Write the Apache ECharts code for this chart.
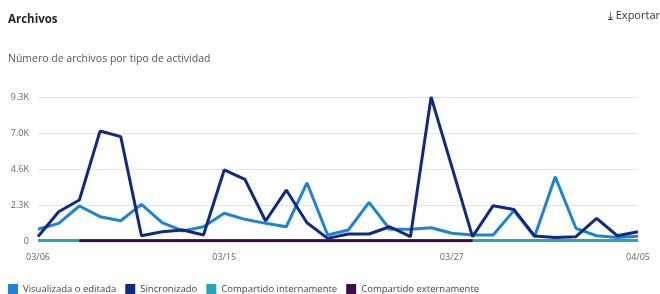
<!DOCTYPE html>
<html>
<head>
<meta charset="utf-8">
<script src="https://cdn.jsdelivr.net/npm/echarts@6/dist/echarts.min.js"></script>
<style>
  html, body { margin: 0; padding: 0; background: #fff; }
  #chart { width: 660px; height: 294px; }
</style>
</head>
<body>
<div id="chart"></div>
<script>
// dates shown on the axis (one day missing in the report between 03/15 and 03/27)
const dates = [
  "03/06", "03/07", "03/08", "03/09", "03/10", "03/11", "03/12", "03/13", "03/14", "03/15",
  "03/16", "03/17", "03/18", "03/19", "03/20", "03/22", "03/23", "03/24", "03/25", "03/26",
  "03/27", "03/28", "03/29", "03/30", "03/31", "04/01", "04/02", "04/03", "04/04", "04/05",
];
const shownDates = ["03/06", "03/15", "03/27", "04/05"];

const visualizada = [
  760, 1140, 2260, 1570, 1310, 2370, 1180, 650, 920, 1790,
  1400, 1140, 920, 3760, 390, 710, 2500, 760, 760, 860,
  500, 390, 390, 1960, 280, 4150, 820, 340, 220, 300,
];
const sincronizado = [
  280, 1890, 2650, 7100, 6740, 340, 600, 710, 390, 4590,
  3980, 1290, 3290, 1180, 170, 450, 450, 920, 280, 9300,
  4800, 280, 2280, 2040, 320, 220, 280, 1460, 340, 600,
];
const internamente = [
  40, 40, 40, 30, 30, 30, 30, 30, 30, 30,
  30, 30, 30, 30, 30, 30, 30, 30, 30, 30,
  30, 40, 40, 40, 40, 40, 40, 40, 40, 40,
];
const externamente = [
  null, null, 20, 20, 20, 20, 20, 20, 20, 20,
  20, 20, 20, 20, 20, 20, 20, 20, 20, 20,
  20, 20, null, null, null, null, null, null, null, null,
];

const yTicks = ["0", "2.3K", "4.6K", "7.0K", "9.3K"];
const yStep = 2325;

const font = "'Open Sans', 'Noto Sans', sans-serif";
const colors = ["#1f83d4", "#0f2a80", "#26a6b4", "#3d0b4a"];

const chart = echarts.init(document.getElementById("chart"));

const mkLine = (name, data, color, width, z) => ({
  name: name,
  type: "line",
  data: data,
  symbol: "none",
  z: z,
  lineStyle: { color: color, width: width },
  itemStyle: { color: color },
});

chart.setOption({
  animation: false,
  color: colors,
  textStyle: { fontFamily: font },
  title: [
    {
      text: "Archivos",
      left: 3,
      top: 9,
      textStyle: { fontSize: 11.5, fontWeight: "bold", color: "#252423", fontFamily: font },
    },
    {
      text: "Número de archivos por tipo de actividad",
      left: 3,
      top: 49,
      textStyle: { fontSize: 10.5, fontWeight: "normal", color: "#555", fontFamily: font },
    },
  ],
  graphic: [
    {
      type: "text",
      right: 0,
      top: 10,
      style: { text: "⤓ Exportar", fontSize: 11, fill: "#333", fontFamily: font },
    },
  ],
  legend: {
    left: 3,
    top: 279,
    icon: "rect",
    itemWidth: 10,
    itemHeight: 10,
    itemGap: 9,
    textStyle: { fontSize: 9.5, color: "#444", fontFamily: font },
    data: ["Visualizada o editada", "Sincronizado", "Compartido internamente", "Compartido externamente"],
  },
  grid: { left: 38, right: 22, top: 97, bottom: 53 },
  xAxis: {
    type: "category",
    boundaryGap: false,
    data: dates,
    axisLine: { show: false },
    axisTick: { show: false },
    axisLabel: {
      interval: (i, v) => shownDates.includes(v),
      color: "#666",
      fontSize: 9,
      margin: 12,
      fontFamily: font,
    },
  },
  yAxis: {
    type: "value",
    min: 0,
    max: yStep * 4,
    interval: yStep,
    axisLine: { show: false },
    axisTick: { show: false },
    splitLine: { lineStyle: { color: "#e3e3e3", width: 1 } },
    axisLabel: {
      color: "#666",
      fontSize: 9,
      margin: 9,
      fontFamily: font,
      formatter: (v) => yTicks[Math.round(v / yStep)],
    },
  },
  series: [
    mkLine("Visualizada o editada", visualizada, colors[0], 3, 2),
    mkLine("Sincronizado", sincronizado, colors[1], 3, 3),
    mkLine("Compartido internamente", internamente, colors[2], 3, 4),
    mkLine("Compartido externamente", externamente, colors[3], 3, 5),
  ],
});
</script>
</body>
</html>
